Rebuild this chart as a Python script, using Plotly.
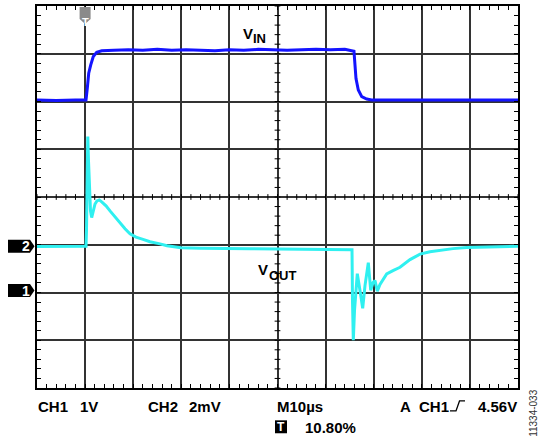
import plotly.graph_objects as go

# time base: 10 us/div, 10 divisions
vin_t = [0, 4, 8, 10.19, 10.46, 10.75, 11.16, 11.70, 12.41, 13.45, 16, 19, 22, 25, 28,
         31, 34, 37, 40, 43, 46, 49, 52, 55, 58, 61, 64, 65.90, 66.11, 66.32, 66.80,
         67.51, 68.55, 69.58, 75, 80, 85, 90, 95, 100]
# CH1, volts (1 V/div)
vin_v = [3.99, 3.98, 3.99, 3.99, 4.24, 4.55, 4.72, 4.90, 4.99, 5.02, 5.03, 5.04, 5.03,
         5.05, 5.03, 5.04, 5.03, 5.02, 5.04, 5.03, 5.05, 5.04, 5.03, 5.04, 5.05, 5.04,
         5.05, 5.01, 4.76, 4.44, 4.20, 4.06, 4.01, 3.99, 3.99, 3.99, 4.00, 3.99, 3.99, 3.99]

vout_t = [0, 4.78, 10.19, 10.29, 10.40, 10.56, 10.71, 10.91, 11.12, 11.37, 11.64, 12.06,
          12.47, 12.95, 13.51, 14.35, 15.18, 16.22, 17.26, 18.30, 19.33, 20.58, 22.04,
          23.49, 25.57, 27.03, 29.94, 33.89, 44.28, 54.68, 65.49, 65.59, 65.76, 66.01,
          66.59, 67.15, 67.71, 68.19, 68.88, 69.38, 69.85, 70.27, 70.75, 71.31, 72.70,
          74.01, 75.47, 77.55, 79.63, 81.70, 83.78, 86.49, 89.33, 92.10, 96.26, 100]
# CH2, mV (2 mV/div, AC)
vout_mv = [-0.01, 0, 0, 0.65, 3.98, 4.60, 3.56, 2.31, 1.48, 1.20, 1.48, 1.77, 1.90, 1.94,
           1.85, 1.69, 1.48, 1.23, 0.94, 0.73, 0.52, 0.38, 0.29, 0.19, 0.10, 0.02, -0.06,
           -0.08, -0.10, -0.13, -0.15, -2.27, -3.94, -2.69, -1.15, -1.85, -2.60, -1.65,
           -0.69, -1.85, -1.52, -1.44, -1.88, -1.60, -1.16, -1.02, -0.88, -0.56, -0.33,
           -0.23, -0.16, -0.10, -0.05, -0.03, -0.02, 0]

W, H = 545, 442
L, R, T, B = 37, 518, 4, 388
FONT = "Liberation Sans, Arial, sans-serif"


def px(x):
    return (x - L) / (R - L)


def py(y):
    return (B - y) / (B - T)


fig = go.Figure()

fig.add_trace(go.Scatter(x=vin_t, y=vin_v, yaxis="y2", mode="lines",
                         line=dict(color="#1414ff", width=3), hoverinfo="skip"))
fig.add_trace(go.Scatter(x=vout_t, y=vout_mv, yaxis="y3", mode="lines",
                         line=dict(color="#2ff0f0", width=3), hoverinfo="skip"))

axis_common = dict(showgrid=True, gridcolor="#333333", gridwidth=1.5,
                   showline=True, linecolor="black", linewidth=2, mirror="ticks",
                   ticks="inside", ticklen=4, tickcolor="black", tickwidth=1,
                   showticklabels=False, zeroline=False, fixedrange=True)

fig.update_layout(
    width=W, height=H,
    margin=dict(l=L, r=W - R, t=T, b=H - B),
    paper_bgcolor="white", plot_bgcolor="white",
    showlegend=False,
    xaxis=dict(range=[0, 100], dtick=10,
               minor=dict(dtick=2, ticks="inside", ticklen=4, tickcolor="black",
                          showgrid=False),
               **axis_common),
    yaxis=dict(range=[-4, 4], dtick=1,
               minor=dict(dtick=0.2, ticks="inside", ticklen=4, tickcolor="black",
                          showgrid=False),
               **axis_common),
    yaxis2=dict(overlaying="y", range=[-2.0417, 5.9583], visible=False, fixedrange=True),
    yaxis3=dict(overlaying="y", range=[-5.9375, 10.0625], visible=False, fixedrange=True),
)

shapes = []
# ticks on the centre cross
for i in range(51):
    t = i * 2
    shapes.append(dict(type="line", xref="x", yref="y", x0=t, x1=t, y0=-0.06, y1=0.06,
                       line=dict(color="black", width=1), layer="between"))
for i in range(41):
    v = -4 + i * 0.2
    shapes.append(dict(type="line", xref="x", yref="y", x0=49.4, x1=50.6, y0=v, y1=v,
                       line=dict(color="black", width=1), layer="between"))
# white box behind V_OUT label
shapes.append(dict(type="rect", xref="paper", yref="paper", x0=px(255), x1=px(300),
                   y0=py(286), y1=py(254), fillcolor="white", line=dict(width=0),
                   layer="between"))
# channel ground markers
marker_path = "M -29,-6.5 L -7,-6.5 L -2.5,0 L -7,6.5 L -29,6.5 Z"
for yr in ["y2", "y3"]:
    shapes.append(dict(type="path", xref="paper", xsizemode="pixel", xanchor=0,
                       yref=yr, ysizemode="pixel", yanchor=0, path=marker_path,
                       fillcolor="black", line=dict(width=0)))
# trigger position marker
shapes.append(dict(type="path", xref="x", xsizemode="pixel", xanchor=10,
                   yref="paper", ysizemode="pixel", yanchor=1,
                   path="M -5.5,-1 L 5.5,-1 L 5.5,-13 L 0,-18 L -5.5,-13 Z",
                   fillcolor="#8a8a8a", line=dict(width=0)))
# trigger box in the readout
shapes.append(dict(type="rect", xref="paper", yref="paper", x0=px(275), x1=px(287),
                   y0=py(433.5), y1=py(420.5), fillcolor="black", line=dict(width=0)))
# rising edge symbol
shapes.append(dict(type="path", xref="paper", yref="paper",
                   path=f"M {px(450)},{py(411)} L {px(456)},{py(411)} "
                        f"L {px(459.5)},{py(401)} L {px(465)},{py(401)}",
                   line=dict(color="black", width=1.3)))
fig.update_layout(shapes=shapes)


def label(text, x, y, size=15, color="black", anchor="left", bold=True, **kw):
    fig.add_annotation(text=text, xref="paper", yref="paper", x=px(x), y=py(y),
                       xanchor=anchor, yanchor="middle", showarrow=False,
                       font=dict(family=FONT, size=size, color=color,
                                 weight="bold" if bold else "normal"), **kw)


label("V", 240.5, 32)
label("IN", 250.5, 37, size=13)
label("V", 255.5, 268.5)
label("OUT", 266.5, 274.5, size=13)

label("CH1", 36, 406.5)
label("1V", 77.5, 406.5)
label("CH2", 146, 406.5)
label("2mV", 186.5, 406.5)
label("M10µs", 274.5, 406.5)
label("A", 397.5, 406.5)
label("CH1", 416.5, 406.5)
label("4.56V", 518.5, 406.5, anchor="right")
label("T", 281, 427.5, size=12, color="white", anchor="center")
label("10.80%", 302.5, 427.5)
label("11334-033", 534, 413, size=10, color="#333333", anchor="center", bold=False,
      textangle=-90)

# marker labels
fig.add_annotation(text="2", xref="paper", yref="y3", x=px(19.5), y=0, showarrow=False,
                   font=dict(family=FONT, size=14, color="white", weight="bold"))
fig.add_annotation(text="1", xref="paper", yref="y2", x=px(19.5), y=0, showarrow=False,
                   font=dict(family=FONT, size=14, color="white", weight="bold"))
fig.add_annotation(text="T", xref="x", yref="paper", x=10, y=py(12), showarrow=False,
                   font=dict(family=FONT, size=11, color="white", weight="bold"))

fig.write_html("out.html", config={"displayModeBar": False},
               post_script="document.body.style.margin='0px';"
                           "document.body.style.overflow='hidden';")
